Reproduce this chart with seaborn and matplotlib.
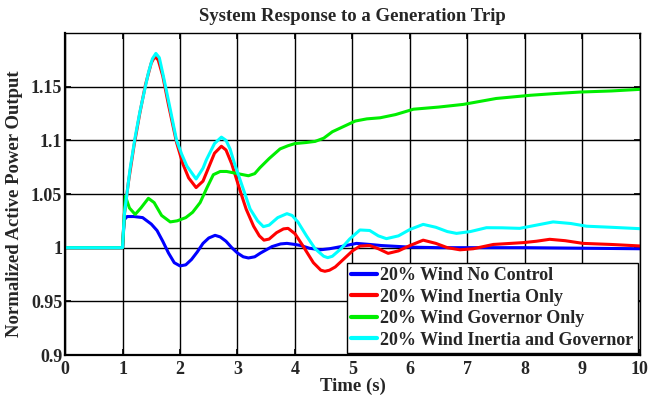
import numpy as np
import pandas as pd
import matplotlib
matplotlib.use("Agg")
import matplotlib.pyplot as plt
import seaborn as sns

# ---- data ----
t_blue = [0, 1.0, 1.03, 1.08, 1.2, 1.35, 1.5, 1.6, 1.7, 1.8, 1.9, 2.0, 2.1, 2.2, 2.3, 2.4, 2.5, 2.61, 2.7, 2.8, 2.9,
          3.0, 3.1, 3.19, 3.3, 3.4, 3.5, 3.6, 3.75, 3.86, 4.0, 4.1, 4.25, 4.44, 4.6, 4.8, 5.07, 5.3, 5.5, 6.0, 6.5,
          7.0, 8.0, 9.0, 10.0]
y_blue = [1.0, 1.0, 1.026, 1.029, 1.029, 1.028, 1.022, 1.016, 1.006, 0.995, 0.986, 0.983, 0.984, 0.989, 0.996,
          1.004, 1.009, 1.0115, 1.010, 1.006, 1.0, 0.995, 0.9915, 0.9904, 0.9915, 0.995, 0.998, 1.001, 1.0035, 1.004,
          1.003, 1.002, 0.9995, 0.998, 0.999, 1.001, 1.004, 1.003, 1.002, 1.0005, 1.0, 1.0, 1.0, 0.9995, 0.999]

t_red = [0, 1.0, 1.03, 1.1, 1.2, 1.3, 1.4, 1.5, 1.56, 1.62, 1.7, 1.8, 1.94, 2.05, 2.15, 2.28, 2.4, 2.5, 2.6, 2.72,
         2.8, 2.9, 3.04, 3.15, 3.28, 3.38, 3.46, 3.55, 3.68, 3.8, 3.88, 4.0, 4.14, 4.32, 4.45, 4.52, 4.6, 4.7, 4.84,
         5.0, 5.13, 5.3, 5.45, 5.62, 5.8, 6.0, 6.23, 6.45, 6.65, 6.87, 7.1, 7.45, 7.97, 8.2, 8.43, 8.7, 9.01, 9.5,
         10.0]
y_red = [1.0, 1.0, 1.03, 1.06, 1.095, 1.125, 1.152, 1.172, 1.178, 1.175, 1.16, 1.133, 1.098, 1.078, 1.065, 1.056,
         1.062, 1.075, 1.088, 1.0945, 1.091, 1.078, 1.054, 1.036, 1.02, 1.011, 1.007, 1.008, 1.014, 1.0175, 1.018,
         1.013, 1.0015, 0.986, 0.979, 0.978, 0.979, 0.982, 0.989, 0.997, 1.0015, 1.002, 0.999, 0.9947, 0.997, 1.002,
         1.007, 1.004, 1.0, 0.998, 0.999, 1.003, 1.0047, 1.006, 1.0078, 1.0065, 1.004, 1.003, 1.0016]

t_green = [0, 1.0, 1.05, 1.12, 1.22, 1.32, 1.45, 1.55, 1.68, 1.83, 1.95, 2.1, 2.22, 2.35, 2.47, 2.58, 2.7, 2.81,
           3.0, 3.19, 3.3, 3.39, 3.55, 3.74, 3.88, 4.0, 4.2, 4.35, 4.5, 4.65, 4.85, 5.05, 5.25, 5.48, 5.75, 6.06,
           6.5, 6.93, 7.5, 8.1, 8.5, 8.96, 9.5, 10.0]
y_green = [1.0, 1.0, 1.048, 1.037, 1.031, 1.037, 1.046, 1.042, 1.030, 1.024, 1.025, 1.028, 1.033, 1.042, 1.056,
           1.068, 1.071, 1.071, 1.069, 1.067, 1.069, 1.0745, 1.083, 1.092, 1.095, 1.097, 1.098, 1.099, 1.102, 1.108,
           1.113, 1.118, 1.120, 1.121, 1.124, 1.129, 1.131, 1.1335, 1.139, 1.142, 1.1435, 1.145, 1.146, 1.1475]

t_cyan = [0, 1.0, 1.03, 1.13, 1.22, 1.3, 1.45, 1.52, 1.58, 1.64, 1.71, 1.83, 1.94, 2.03, 2.12, 2.28, 2.4, 2.46,
          2.6, 2.72, 2.8, 2.87, 2.95, 3.04, 3.13, 3.22, 3.35, 3.45, 3.55, 3.7, 3.86, 3.95, 4.05, 4.2, 4.35, 4.5,
          4.57, 4.65, 4.8, 4.95, 5.13, 5.3, 5.45, 5.59, 5.8, 6.0, 6.23, 6.45, 6.65, 6.81, 7.05, 7.33, 7.6, 7.91,
          8.2, 8.49, 8.8, 9.07, 9.5, 10.0]
y_cyan = [1.0, 1.0, 1.03, 1.073, 1.103, 1.126, 1.163, 1.176, 1.181, 1.177, 1.16, 1.129, 1.10, 1.087, 1.076, 1.064,
          1.074, 1.082, 1.097, 1.103, 1.1, 1.092, 1.078, 1.064, 1.05, 1.036, 1.025, 1.0196, 1.021, 1.028, 1.0317,
          1.030, 1.024, 1.011, 0.999, 0.992, 0.9907, 0.992, 0.999, 1.008, 1.0165, 1.016, 1.011, 1.0084, 1.011,
          1.017, 1.0217, 1.019, 1.015, 1.0133, 1.015, 1.0186, 1.0185, 1.018, 1.021, 1.024, 1.0225, 1.02, 1.019,
          1.0177]

labels = ["20% Wind No Control", "20% Wind Inertia Only",
          "20% Wind Governor Only", "20% Wind Inertia and Governor"]
colors = ["#0000ff", "#ff0000", "#00ee00", "#00ffff"]
x_ticks = list(range(0, 11))
y_ticks = [0.9, 0.95, 1.0, 1.05, 1.1, 1.15]
y_tick_labels = ["0.9", "0.95", "1", "1.05", "1.1", "1.15"]

frames = []
for lab, t, y in zip(labels, [t_blue, t_red, t_green, t_cyan], [y_blue, y_red, y_green, y_cyan]):
    frames.append(pd.DataFrame({"Time": t, "Power": y, "Case": lab}))
df = pd.concat(frames, ignore_index=True)

sns.set_theme(style="white")
plt.rcParams['font.family'] = ['Liberation Serif', 'DejaVu Serif']
plt.rcParams['font.weight'] = 'bold'

fig = plt.figure(figsize=(6.49, 4.01), dpi=100)
ax = fig.add_axes([0.1002, 0.1147, 0.8858, 0.803])

sns.lineplot(data=df, x="Time", y="Power", hue="Case", hue_order=labels,
             palette=colors, linewidth=2.2, ax=ax, sort=False, estimator=None)

ax.set_xlim(0, 10)
ax.set_ylim(0.9, 1.2)
ax.set_xticks(x_ticks)
ax.set_xticklabels([str(v) for v in x_ticks], fontsize=13, fontweight='bold')
ax.set_yticks(y_ticks)
ax.set_yticklabels(y_tick_labels, fontsize=13, fontweight='bold')
ax.grid(True, color='black', linewidth=1.0)
ax.set_axisbelow(True)
for s in ax.spines.values():
    s.set_color('black')
    s.set_linewidth(1.0)
ax.spines['bottom'].set_linewidth(1.6)
ax.spines['left'].set_linewidth(1.6)
ax.tick_params(axis='both', direction='in', length=4, color='black', pad=2,
               top=True, right=True, bottom=True, left=True)
ax.tick_params(axis='x', pad=4)

ax.set_xlabel("Time (s)", fontsize=13.5, fontweight='bold', labelpad=0)
ax.set_ylabel("Normalized Active Power Output", fontsize=13.5, fontweight='bold')
ax.yaxis.set_label_coords(-0.073, 0.469)
ax.set_title("System Response to a Generation Trip", fontsize=13.5, fontweight='bold', pad=9)

leg = ax.legend(loc='lower right', fontsize=13, frameon=True, fancybox=False,
                borderaxespad=0.1, handlelength=1.4, handletextpad=0.2,
                borderpad=0.25, labelspacing=0.25, prop={'weight': 'bold', 'size': 13})
leg.get_frame().set_edgecolor('black')
leg.get_frame().set_linewidth(1.0)
leg.get_frame().set_alpha(1)
for line in leg.get_lines():
    line.set_linewidth(3)

fig.savefig("out.png", dpi=100)
